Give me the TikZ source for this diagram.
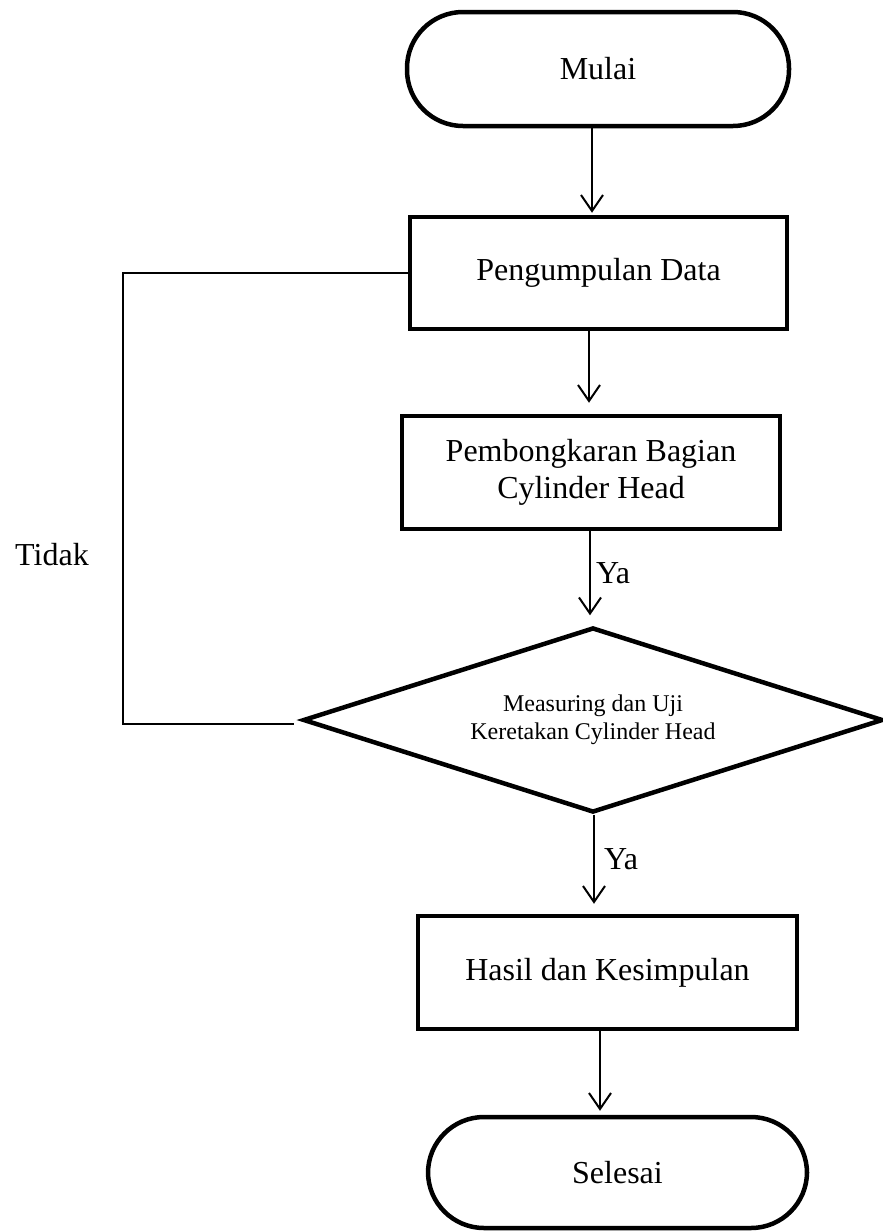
\documentclass[tikz,border=0pt]{standalone}
\usepackage{fontspec}
\setmainfont{Liberation Serif}
\usetikzlibrary{shapes.geometric,arrows.meta}
\tikzset{
  box/.style={draw, line width=4.5pt, rectangle, align=center, inner sep=0pt,
    font=\fontsize{32}{37}\selectfont},
  term/.style={box, rounded corners=56pt},
  dec/.style={draw, line width=4.5pt, diamond, shape aspect=3.135, align=center, inner sep=0pt,
    font=\fontsize{24}{28}\selectfont},
  conn/.style={line width=2pt},
  arr/.style={conn, -{Straight Barb[length=16pt,width=22pt,line width=2pt]}},
  lbl/.style={font=\fontsize{32}{37}\selectfont, inner sep=0pt}
}
\begin{document}
\begin{tikzpicture}[x=1pt,y=-1pt]
\useasboundingbox (0,0) rectangle (883,1232);
\node[term, minimum width=382pt, minimum height=114pt] (mulai) at (598,69) {Mulai};
\node[box, minimum width=377pt, minimum height=112pt] (kumpul) at (598.5,273) {Pengumpulan Data};
\node[box, minimum width=378pt, minimum height=113pt] (bongkar) at (591,472.5) {Pembongkaran Bagian\\Cylinder Head};
\node[dec, minimum width=580pt, minimum height=185pt] (uji) at (593,720) {Measuring dan Uji\\Keretakan Cylinder Head};
\node[box, minimum width=379pt, minimum height=113pt] (hasil) at (607.5,972.5) {Hasil dan Kesimpulan};
\node[term, minimum width=379pt, minimum height=111pt] (selesai) at (617.5,1172.5) {Selesai};
\node[lbl] (tidak) at (52,555) {Tidak};
\coordinate (fb) at (123,724);

\draw[arr] ([xshift=-6pt]mulai.south) -- ([xshift=-6.5pt,yshift=2pt]kumpul.north);
\draw[arr] ([xshift=-9.5pt]kumpul.south) -- ([xshift=-2pt,yshift=11pt]bongkar.north);
\draw[arr] ([xshift=-1pt]bongkar.south) -- ([xshift=-3pt,yshift=10pt]uji.north)
  node[lbl, midway, right=5pt] (ya1) {Ya};
\draw[arr] ([xshift=1pt]uji.south) -- ([xshift=-13.5pt,yshift=10pt]hasil.north)
  node[lbl, midway, right=9pt] (ya2) {Ya};
\draw[arr] ([xshift=-7.5pt,yshift=3pt]hasil.south) -- ([xshift=-17.5pt,yshift=4pt]selesai.north);
\draw[conn] ([xshift=-7pt,yshift=-4pt]uji.west) -- (fb) |- (kumpul.west);
\end{tikzpicture}
\end{document}
